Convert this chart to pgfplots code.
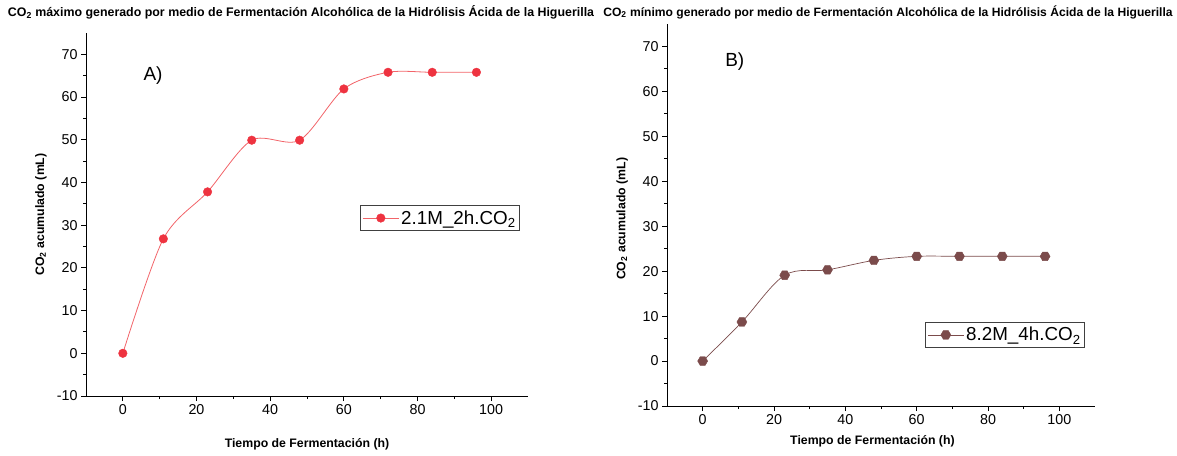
\documentclass[border=0pt]{standalone}
\usepackage{fontspec}
\setmainfont{Liberation Sans}
\usepackage{pgfplots}
\pgfplotsset{compat=1.18}
\definecolor{cA}{RGB}{238,51,64}
\definecolor{cAl}{RGB}{242,100,105}
\definecolor{cB}{RGB}{123,75,75}
\pgfdeclareplotmark{hexagon*}{%
  \pgfpathmoveto{\pgfqpointpolar{0}{\pgfplotmarksize}}%
  \pgfpathlineto{\pgfqpointpolar{60}{\pgfplotmarksize}}%
  \pgfpathlineto{\pgfqpointpolar{120}{\pgfplotmarksize}}%
  \pgfpathlineto{\pgfqpointpolar{180}{\pgfplotmarksize}}%
  \pgfpathlineto{\pgfqpointpolar{240}{\pgfplotmarksize}}%
  \pgfpathlineto{\pgfqpointpolar{300}{\pgfplotmarksize}}%
  \pgfpathclose
  \pgfusepathqfillstroke}
\pgfplotsset{
  myaxis/.style={
    scale only axis,
    axis x line*=bottom, axis y line*=left,
    xmin=-10, xmax=110, ymin=-10, ymax=75,
    xtick={0,20,...,100}, ytick={-10,0,...,70},
    minor x tick num=1, minor y tick num=1,
    tick align=outside, major tick length=5pt, minor tick length=3pt,
    every tick/.style={black, line width=0.9pt},
    axis line style={black, line width=1pt},
    tick label style={font=\fontsize{14.3}{16}\selectfont},
    /pgf/number format/assume math mode=true,
    label style={font=\fontsize{12.3}{14}\selectfont\bfseries},
    legend style={draw=black!75, line width=0.8pt, font=\fontsize{18.8}{21}\selectfont,
      inner xsep=2pt, inner ysep=3pt, anchor=north west, cells={anchor=west}},
    legend image code/.code={\draw[mark repeat=2,mark phase=2,#1] plot coordinates {(0pt,0pt)(18pt,0pt)(36pt,0pt)};},
    clip=false,
  }
}
\begin{document}
\begin{tikzpicture}[x=1pt,y=1pt]
\useasboundingbox (0,0) rectangle (1177,455);
\node[font=\fontsize{12.4}{14}\selectfont\bfseries] at (301,443) {CO\textsubscript{2} máximo generado por medio de Fermentación Alcohólica de la Hidrólisis Ácida de la Higuerilla};
\node[font=\fontsize{12.1}{14}\selectfont\bfseries] at (888,443) {CO\textsubscript{2} mínimo generado por medio de Fermentación Alcohólica de la Hidrólisis Ácida de la Higuerilla};
\begin{axis}[myaxis, at={(86pt,59pt)}, anchor=south west, width=442pt, height=363pt,
  xlabel={Tiempo de Fermentación (h)}, ylabel={CO\textsubscript{2} acumulado (mL)},
  xlabel style={at={(axis description cs:0.5,-0.132)}, anchor=center},
  ylabel style={at={(axis description cs:-0.102,0.5)}, anchor=center, rotate=0},
  legend style={at={(axis description cs:0.62,0.526)}}]
\addplot[cAl, line width=0.8pt, smooth, tension=0.5, mark=*, mark size=4.3pt,
  mark options={fill=cA, draw=cA, line width=0.4pt}]
  coordinates {(0,0) (11,26.8) (23,37.8) (35,49.9) (48,49.9) (60,61.9) (72,65.8) (84,65.8) (96,65.8)};
\addlegendentry{2.1M\_2h.CO\textsubscript{2}}
\node[font=\fontsize{19}{22}\selectfont] at (axis cs:8.2,65) {A)};
\end{axis}
\begin{axis}[myaxis, at={(667pt,49pt)}, anchor=south west, width=428pt, height=382pt,
  xlabel={Tiempo de Fermentación (h)}, ylabel={CO\textsubscript{2} acumulado (mL)},
  xlabel style={at={(axis description cs:0.48,-0.092)}, anchor=center},
  ylabel style={at={(axis description cs:-0.105,0.49)}, anchor=center, rotate=0},
  legend style={at={(axis description cs:0.603,0.22)}}]
\addplot[cB, line width=0.7pt, smooth, tension=0.55, mark=hexagon*, mark size=5pt,
  mark options={fill=cB, draw=cB, line width=0.4pt}]
  coordinates {(0,0) (11,8.7) (23,19.1) (35,20.3) (48,22.4) (60,23.3) (72,23.3) (84,23.3) (96,23.3)};
\addlegendentry{8.2M\_4h.CO\textsubscript{2}}
\node[font=\fontsize{19}{22}\selectfont] at (axis cs:9,66.6) {B)};
\end{axis}
\end{tikzpicture}
\end{document}
